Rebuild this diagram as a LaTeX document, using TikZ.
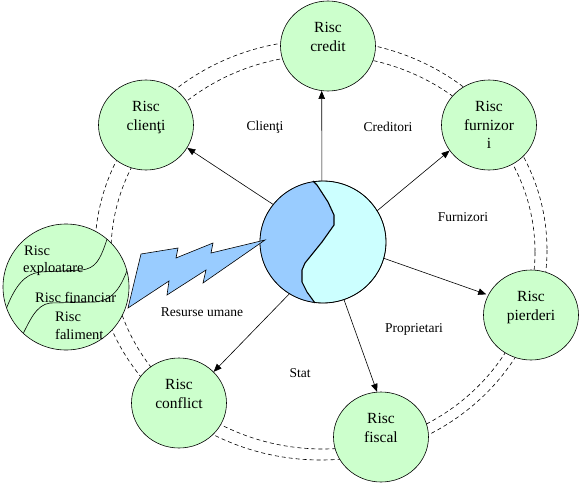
\documentclass[tikz,border=0pt]{standalone}
\usepackage{fontspec}
\setmainfont{Liberation Serif}
\usetikzlibrary{shapes.geometric,arrows.meta}
\definecolor{ngreen}{HTML}{CCFFCC}
\definecolor{nblue}{HTML}{99CCFF}
\definecolor{ncyan}{HTML}{CCFFFF}
\begin{document}
\begin{tikzpicture}[x=1pt,y=-1pt,
 risk/.style={ellipse,draw,line width=0.6pt,fill=ngreen,minimum width=95pt,minimum height=90pt,inner sep=0pt,align=center,font=\fontsize{15.5}{18.5}\selectfont},
 lbl/.style={font=\fontsize{13.5}{15}\selectfont,inner sep=0pt},
 ftxt/.style={font=\fontsize{14.5}{17}\selectfont,inner sep=0pt,anchor=base west},
 ring/.style={dash pattern=on 4pt off 3pt,line width=0.6pt},
 arr/.style={-{Triangle[length=8pt,width=6.5pt]},line width=0.6pt}]
\useasboundingbox (0,0) rectangle (582,485);
% dashed double ring
\draw[ring] (321,250) ellipse [x radius=226,y radius=210];
\draw[ring] (323,252) ellipse [x radius=212,y radius=197];
% risk nodes
\node[risk] (cred) at (328,46) {Risc\\credit\\~};
\node[risk] (furn) at (489,125) {Risc\\furnizor\\i};
\node[risk] (cli) at (146,125) {Risc\\clienţi\\~};
\node[risk] (pier) at (531,315) {Risc\\pierderi\\~};
\node[risk] (fisc) at (381,437) {Risc\\fiscal\\~};
\node[risk] (conf) at (179,403) {Risc\\conflict\\~};
% big left circle
\node[circle,draw,line width=0.6pt,fill=ngreen,minimum size=126pt,inner sep=0pt] (fin) at (66,287) {};
\begin{scope}
\clip (66,287) circle [radius=63];
\draw[line width=0.6pt] (108,236) .. controls (100,262) and (95,268) .. (82,270) -- (40,272) .. controls (25,274) and (15,285) .. (5,312);
\draw[line width=0.6pt] (130,262) .. controls (121,290) and (112,300) .. (95,302) -- (50,303) .. controls (36,305) and (30,320) .. (20,340);
\end{scope}
\node[ftxt] (t1) at (24,255) {Risc};
\node[ftxt] (t2) at (23,272) {exploatare};
\node[ftxt] (t3) at (35,302) {Risc financiar};
\node[ftxt] (t4) at (55,321) {Risc};
\node[ftxt] (t5) at (55,339) {faliment};
% centre
\node[ellipse,draw,fill=ncyan,minimum width=126pt,minimum height=122pt,inner sep=0pt] (cen) at (323,242) {};
\begin{scope}
\clip (323,242) ellipse [x radius=63,y radius=61];
\fill[nblue] (313,181) -- (317,185) -- (328,202) -- (334,215) -- (334,225) -- (322,242) -- (305,263) -- (302,270) -- (302,282) -- (307,292) -- (315,303) -- (250,310) -- (250,175) -- cycle;
\end{scope}
\draw[line width=1.1pt] (313,181) -- (317,185) -- (328,202) -- (334,215) -- (334,225) -- (322,242) -- (305,263) -- (302,270) -- (302,282) -- (307,292) -- (315,303);
\draw[line width=0.8pt] (323,242) ellipse [x radius=63,y radius=61];
% lightning
\draw[fill=nblue,line width=0.6pt,line join=miter] (128,308) -- (141,254) -- (178,248) -- (176,258) -- (213,243) -- (211,253) -- (265,240) -- (203,283) -- (206,270) -- (167,295) -- (169,281) -- cycle;
% arrows
\draw[arr] (cen.91) -- (cred.262);
\draw[arr] (cen.30) -- (furn.213);
\draw[arr] (cen.143) -- (cli.331);
\draw[arr,shorten >=2pt] (cen.-15) -- (pier.155);
\draw[arr] (cen.-70) -- (fisc.95);
\draw[arr] (cen.237) -- (conf.42);
% labels
\node[lbl] (lcli) at (265,127) {Clienţi};
\node[lbl] (lcred) at (388,127) {Creditori};
\node[lbl] (lfur) at (463,217) {Furnizori};
\node[lbl] (lprop) at (414,329) {Proprietari};
\node[lbl] (lstat) at (300,373) {Stat};
\node[lbl] (lres) at (202,312) {Resurse umane};
\end{tikzpicture}
\end{document}
